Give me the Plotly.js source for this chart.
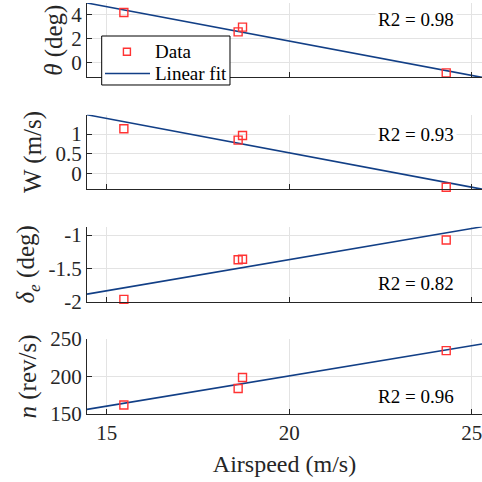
<!DOCTYPE html>
<html>
<head>
<meta charset="utf-8">
<script src="https://cdn.plot.ly/plotly-3.0.1.min.js"></script>
<style>
html,body{margin:0;padding:0;background:#fff;}
#chart{width:482px;height:482px;}
</style>
</head>
<body>
<div id="chart"></div>
<script>
// Airspeed of each test point (m/s)
const airspeed = [15.47, 18.6, 18.72, 24.3];
// Measured series
const theta = [4.19, 2.57, 2.97, -0.84];
const wind = [1.136, 0.846, 0.964, -0.36];
const elevator = [-1.97, -1.373, -1.366, -1.075];
const rps = [162, 184, 198.6, 234.5];
// Linear fit end points
const fitX = [14.46, 25.28];
const fitTheta = [4.98, -1.22];
const fitWind = [1.495, -0.41];
const fitElevator = [-1.891, -0.876];
const fitRps = [156.1, 243.4];
// R2 labels
const r2Labels = ['R2 = 0.98', 'R2 = 0.93', 'R2 = 0.82', 'R2 = 0.96'];
// Legend labels
const legendLabels = ['Data', 'Linear fit'];
// Axis titles and tick labels
const yTitles = ['<i>θ</i> (deg)', 'W (m/s)', '<i>δ<sub>e</sub></i> (deg)', '<i>n</i> (rev/s)'];
const yTickVals = [[0, 2, 4], [0, 0.5, 1], [-2, -1.5, -1], [150, 200, 250]];
const yTickText = [['0', '2', '4'], ['0', '0.5', '1'], ['-2', '-1.5', '-1'], ['150', '200', '250']];
const xTickVals = [15, 20, 25];
const xTickText = ['15', '20', '25'];
const xTitle = 'Airspeed (m/s)';

const FONT = 'Liberation Serif';
const INK = '#262626';
const GRID = '#e3e3e3';
const RED = '#ff3333';
const BLUE = '#123f86';

const series = [theta, wind, elevator, rps];
const fits = [fitTheta, fitWind, fitElevator, fitRps];
const yRanges = [[-1.22, 4.98], [-0.41, 1.495], [-2.01, -0.876], [150, 250]];
const domains = [[0.819, 1], [0.547, 0.728], [0.2725, 0.4555], [0, 0.1825]];
const r2Y = [0.774, 0.74, 0.248, 0.234];
const standoffs = [1, 6, 6, 6];

const traces = [];
const layout = {
  width: 482, height: 482,
  margin: {l: 87, r: 0, t: 3, b: 68},
  paper_bgcolor: '#fff', plot_bgcolor: '#fff',
  font: {family: FONT, color: INK, size: 21},
  showlegend: false,
  annotations: [],
  shapes: [
    // legend box
    {type: 'rect', xref: 'paper', yref: 'paper', x0: 0.0372, x1: 0.362, y0: 0.8005, y1: 0.9197,
     line: {color: '#000', width: 1}, fillcolor: '#fff', layer: 'above'},
    // legend sample: marker
    {type: 'rect', xref: 'paper', yref: 'paper', x0: 0.0922, x1: 0.1099, y0: 0.873, y1: 0.890,
     line: {color: RED, width: 1.4}, fillcolor: 'rgba(0,0,0,0)', layer: 'above'},
    // legend sample: line
    {type: 'line', xref: 'paper', yref: 'paper', x0: 0.0456, x1: 0.1595, y0: 0.8285, y1: 0.8285,
     line: {color: BLUE, width: 1.6}, layer: 'above'}
  ]
};

const legendY = [0.8815, 0.8285];
for (let k = 0; k < legendLabels.length; k++) {
  layout.annotations.push({
    xref: 'paper', yref: 'paper', x: 0.167, y: legendY[k], xanchor: 'left', yanchor: 'middle',
    showarrow: false, text: legendLabels[k], font: {family: FONT, size: 19, color: '#000'}
  });
}

for (let i = 0; i < 4; i++) {
  const sfx = i === 0 ? '' : String(i + 1);
  const xa = 'x' + sfx, ya = 'y' + sfx;
  traces.push({
    x: fitX, y: fits[i], xaxis: xa, yaxis: ya, mode: 'lines',
    line: {color: BLUE, width: 1.6}, name: 'Linear fit', hoverinfo: 'skip'
  });
  traces.push({
    x: airspeed, y: series[i], xaxis: xa, yaxis: ya, mode: 'markers',
    marker: {symbol: 'square-open', size: 8, color: RED, line: {color: RED, width: 1.4}},
    name: 'Data', cliponaxis: false
  });
  const isBottom = i === 3;
  layout['xaxis' + sfx] = {
    domain: [0, 1], anchor: ya, range: [fitX[0], fitX[1]],
    tickmode: 'array', tickvals: xTickVals, ticktext: xTickText,
    showticklabels: isBottom, ticklabeloverflow: 'allow',
    ticks: 'inside', ticklen: 5, tickcolor: INK, tickwidth: 1,
    showgrid: true, gridcolor: GRID, gridwidth: 1,
    showline: true, linecolor: INK, linewidth: 1, mirror: false,
    zeroline: false,
    tickfont: {family: FONT, size: 21, color: INK},
    title: isBottom ? {text: xTitle, font: {family: FONT, size: 24, color: INK}, standoff: 10} : {text: ''},
    automargin: false
  };
  if (i > 0) layout['xaxis' + sfx].matches = 'x';
  layout['yaxis' + sfx] = {
    domain: domains[i], anchor: xa, range: yRanges[i],
    tickmode: 'array', tickvals: yTickVals[i], ticktext: yTickText[i],
    ticks: 'inside', ticklen: 5, tickcolor: INK, tickwidth: 1,
    showgrid: true, gridcolor: GRID, gridwidth: 1,
    showline: true, linecolor: INK, linewidth: 1, mirror: false,
    zeroline: false,
    tickfont: {family: FONT, size: 21, color: INK},
    title: {text: yTitles[i], font: {family: FONT, size: 25, color: INK}, standoff: standoffs[i]},
    automargin: false
  };
  layout.annotations.push({
    xref: 'paper', yref: ya + ' domain', x: 0.936, y: r2Y[i],
    xanchor: 'right', yanchor: 'middle', showarrow: false,
    text: r2Labels[i], bgcolor: '#fff', borderpad: 2,
    font: {family: FONT, size: 19, color: '#000'}
  });
}

Plotly.newPlot('chart', traces, layout, {displayModeBar: false, staticPlot: true});
</script>
</body>
</html>
